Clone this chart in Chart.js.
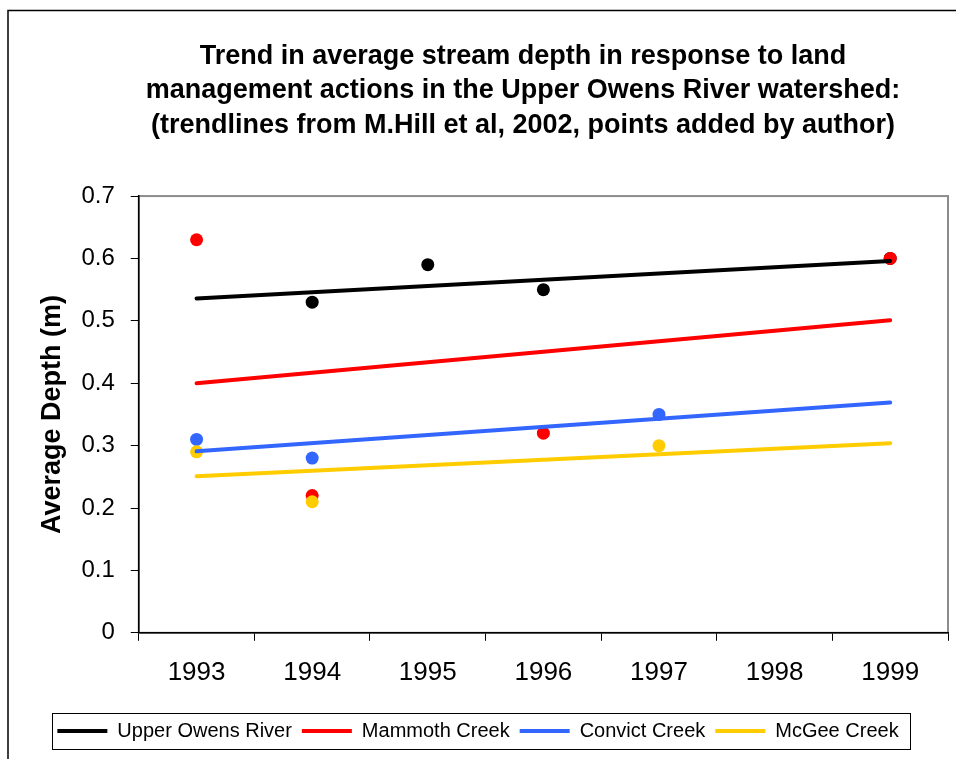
<!DOCTYPE html>
<html>
<head>
<meta charset="utf-8">
<title>Average stream depth</title>
<script src="https://cdn.jsdelivr.net/npm/chart.js@4"></script>
<style>
  body { margin: 0; background: #fff; }
  canvas { display: block; }
</style>
</head>
<body>
<canvas id="depthChart" width="956" height="759"></canvas>
<script>
// categories
const years = ['1993', '1994', '1995', '1996', '1997', '1998', '1999'];

// measured points (added by author)
const upperOwensPoints = [null, 0.53, 0.59, 0.55, null, null, 0.60];
const mammothPoints = [0.63, 0.22, null, 0.32, null, null, 0.60];
const convictPoints = [0.31, 0.28, null, null, 0.35, null, null];
const mcgeePoints = [0.29, 0.21, null, null, 0.30, null, null];

// trendlines (M.Hill et al, 2002): value at 1993 and at 1999
const upperOwensTrend = [0.536, null, null, null, null, null, 0.596];
const mammothTrend = [0.400, null, null, null, null, null, 0.501];
const convictTrend = [0.291, null, null, null, null, null, 0.369];
const mcgeeTrend = [0.251, null, null, null, null, null, 0.304];

const seriesNames = ['Upper Owens River', 'Mammoth Creek', 'Convict Creek', 'McGee Creek'];
const seriesColors = ['#000000', '#ff0000', '#3366ff', '#ffcc00'];

Chart.defaults.font.family = "'Liberation Sans', Arial, sans-serif";
Chart.defaults.color = '#000';

function trendDataset(i, data) {
  return {
    label: seriesNames[i],
    data: data,
    borderColor: seriesColors[i],
    backgroundColor: seriesColors[i],
    borderWidth: 4,
    borderCapStyle: 'round',
    spanGaps: true,
    pointRadius: 0,
    pointHoverRadius: 0,
    pointStyle: 'line',
    pointBorderColor: seriesColors[i],
    pointBorderWidth: 4,
    order: 1
  };
}

function pointDataset(i, data) {
  return {
    label: seriesNames[i] + ' points',
    data: data,
    showLine: false,
    backgroundColor: seriesColors[i],
    borderColor: seriesColors[i],
    borderWidth: 0,
    pointRadius: 6.5,
    pointHoverRadius: 6.5,
    order: 9 - i
  };
}

// white page, outer chart border and grey plot frame
const frame = {
  id: 'frame',
  beforeDraw(chart) {
    const ctx = chart.ctx;
    const a = chart.chartArea;
    ctx.save();
    ctx.fillStyle = '#fff';
    ctx.fillRect(0, 0, chart.width, chart.height);
    ctx.strokeStyle = '#000';
    ctx.lineWidth = 1.5;
    ctx.strokeRect(8, 10.5, chart.width + 20, chart.height + 20);
    ctx.strokeStyle = '#8c8c8c';
    ctx.lineWidth = 2;
    ctx.strokeRect(a.left, a.top, a.right - a.left, a.bottom - a.top);
    ctx.restore();
  },
  afterLayout(chart) {
    // title in the original sits right of the page centre
    chart.titleBlock.left += 90;
  },
  afterDraw(chart) {
    const boxes = chart.legend.legendHitBoxes;
    if (!boxes || !boxes.length) return;
    const left = Math.min(...boxes.map(b => b.left));
    const right = Math.max(...boxes.map(b => b.left + b.width));
    const top = boxes[0].top;
    const h = boxes[0].height;
    const ctx = chart.ctx;
    ctx.save();
    ctx.strokeStyle = '#000';
    ctx.lineWidth = 1;
    ctx.strokeRect(Math.round(left - 5) + 0.5, Math.round(top - 8) + 0.5, Math.round(right - left + 17), Math.round(h + 16));
    ctx.restore();
  }
};

const ctx = document.getElementById('depthChart').getContext('2d');
new Chart(ctx, {
  type: 'line',
  data: {
    labels: years,
    datasets: [
      trendDataset(0, upperOwensTrend),
      trendDataset(1, mammothTrend),
      trendDataset(2, convictTrend),
      trendDataset(3, mcgeeTrend),
      pointDataset(0, upperOwensPoints),
      pointDataset(1, mammothPoints),
      pointDataset(2, convictPoints),
      pointDataset(3, mcgeePoints)
    ]
  },
  options: {
    responsive: false,
    animation: false,
    layout: { padding: { left: 8, right: 8, top: 10, bottom: 8 } },
    plugins: {
      title: {
        display: true,
        text: [
          'Trend in average stream depth in response to land',
          'management actions in the Upper Owens River watershed:',
          '(trendlines from M.Hill et al, 2002, points added by author)'
        ],
        font: { size: 27, weight: 'bold', lineHeight: 1.26 },
        padding: { top: 30, bottom: 54 }
      },
      legend: {
        position: 'bottom',
        labels: {
          filter: (item) => item.datasetIndex < 4,
          usePointStyle: true,
          pointStyleWidth: 50,
          padding: 10,
          font: { size: 20 }
        }
      },
      tooltip: { enabled: false }
    },
    scales: {
      x: {
        offset: true,
        grid: { offset: true, drawOnChartArea: false, tickLength: 8, color: '#000', tickWidth: 1 },
        border: { color: '#000', width: 1.5 },
        ticks: { font: { size: 26 }, padding: 16, maxRotation: 0 },
        afterFit(scale) { scale.height += 7; }
      },
      y: {
        min: 0,
        max: 0.7,
        ticks: { stepSize: 0.1, font: { size: 24 }, padding: 16 },
        grid: { drawOnChartArea: false, tickLength: 8, color: '#000', tickWidth: 1 },
        border: { color: '#000', width: 1.5 },
        title: {
          display: true,
          text: 'Average Depth (m)',
          font: { size: 27, weight: 'bold' },
          padding: { top: 28, bottom: 14 }
        },
        afterFit(scale) { scale.width -= 17; }
      }
    }
  },
  plugins: [frame]
});
</script>
</body>
</html>
